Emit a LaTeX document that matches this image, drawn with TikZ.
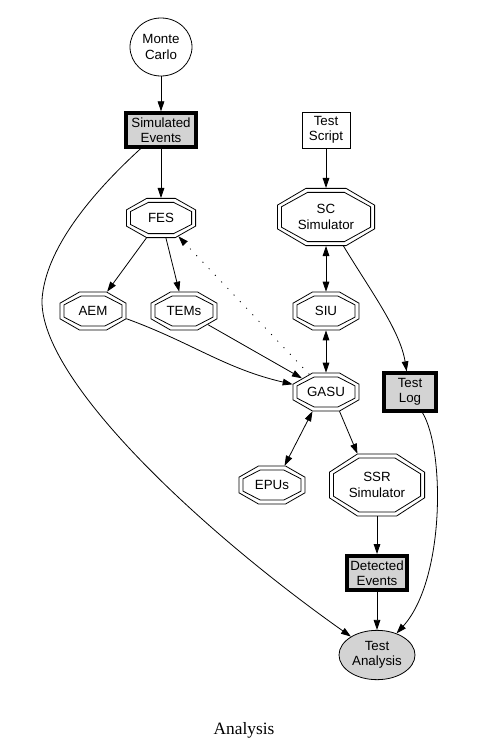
\documentclass[tikz,border=0pt]{standalone}
\usepackage{fontspec}
\setmainfont{Liberation Serif}
\newfontfamily\dotfont{Liberation Sans}
\usetikzlibrary{shapes.geometric, arrows.meta, calc}
\definecolor{boxgray}{HTML}{D3D3D3}

\begin{document}
\begin{tikzpicture}[x=0.75pt, y=-0.75pt,
    every node/.style={font=\dotfont\fontsize{10}{11.5}\selectfont, align=center, inner sep=0pt},
    >={Triangle[length=7.5pt, width=5pt]},
    edge/.style={line width=0.6pt, ->},
    oval/.style={ellipse, draw, line width=0.6pt},
    datum/.style={rectangle, draw, line width=3pt, fill=boxgray},
    script/.style={rectangle, draw, line width=0.6pt},
    unit/.style 2 args={rectangle, minimum width=#1, minimum height=#2, outer sep=0pt},
    octline/.style={line width=0.6pt}]

  \useasboundingbox (0,0) rectangle (484,752);

  % simulation side
  \node[oval, minimum width=46.5pt, minimum height=43.5pt] (mc) at (161,47) {Monte\\Carlo};
  \node[datum, minimum width=52pt, minimum height=25pt] (simev) at (161,130) {Simulated\\Events};
  \node[unit={52.5pt}{30pt}] (fes) at (161,218) {FES};
  \node[unit={50pt}{29pt}] (aem) at (93,311) {AEM};
  \node[unit={50pt}{29pt}] (tems) at (184,311) {TEMs};

  % test stand side
  \node[script, minimum width=36pt, minimum height=27pt] (script) at (326,130) {Test\\Script};
  \node[unit={73.5pt}{43.5pt}] (scsim) at (326,217) {SC\\Simulator};
  \node[unit={50pt}{29pt}] (siu) at (326,311) {SIU};
  \node[unit={50pt}{29pt}] (gasu) at (326,392) {GASU};
  \node[datum, minimum width=39pt, minimum height=28pt] (log) at (410,392) {Test\\Log};
  \node[unit={50pt}{29pt}] (epus) at (272,485) {EPUs};
  \node[unit={72pt}{47pt}] (ssr) at (377,485) {SSR\\Simulator};
  \node[datum, minimum width=45pt, minimum height=25.5pt] (detev) at (377,573) {Detected\\Events};
  \node[oval, fill=boxgray, minimum width=57pt, minimum height=37pt] (ana) at (377,655) {Test\\Analysis};

  \node[font=\fontsize{13}{15}\selectfont] (caption) at (244,730) {Analysis};

  % double octagons round the units
  \foreach \u in {fes,aem,tems,scsim,siu,gasu,epus,ssr}
    \foreach \d in {0.3pt,3.3pt}
      \draw[octline] let \p1=(\u.north east), \p2=(\u.center),
          \n1={\x1-\x2-\d}, \n2={\y1-\y2-\d} in
        ({\x2-0.414*\n1*1pt},{\y2+\n2*1pt}) -- ({\x2+0.414*\n1*1pt},{\y2+\n2*1pt})
        -- ({\x2+\n1*1pt},{\y2+0.414*\n2*1pt}) -- ({\x2+\n1*1pt},{\y2-0.414*\n2*1pt})
        -- ({\x2+0.414*\n1*1pt},{\y2-\n2*1pt}) -- ({\x2-0.414*\n1*1pt},{\y2-\n2*1pt})
        -- ({\x2-\n1*1pt},{\y2-0.414*\n2*1pt}) -- ({\x2-\n1*1pt},{\y2+0.414*\n2*1pt}) -- cycle;

  % connectors
  \draw[edge] (mc) -- (simev);
  \draw[edge] (simev) -- (fes);
  \draw[edge] (fes) -- (aem);
  \draw[edge] (fes) -- (tems);
  \draw[edge] (aem.-13) to[out=-20, in=167] (gasu);
  \draw[edge, shorten <=-8pt, shorten >=-8pt] (tems) -- (gasu);
  \draw[edge, dash pattern=on 0.8pt off 6pt, shorten <=-1.8pt, shorten >=-1.7pt] (gasu) -- (fes);
  \draw[edge] (script) -- (scsim);
  \draw[edge, <->] (scsim) -- (siu);
  \draw[edge, <->] (siu) -- (gasu);
  \draw[edge] (scsim) .. controls (370,290) and (400,330) .. (log);
  \draw[edge, <->] (gasu.-125) -- (epus.57);
  \draw[edge] (gasu.-55) -- (ssr.122);
  \draw[edge] (ssr) -- (detev);
  \draw[edge] (detev) -- (ana);
  \draw[edge] (log) .. controls (445,450) and (445,580) .. (ana);
  \draw[edge] (simev) .. controls (90,195) and (45,250) .. (42,300)
    .. controls (40,380) and (200,530) .. (ana);

\end{tikzpicture}
\end{document}
